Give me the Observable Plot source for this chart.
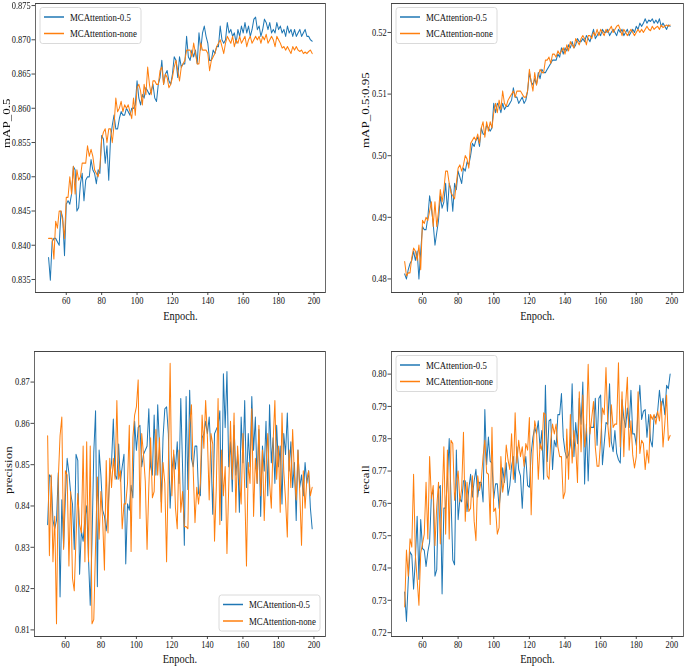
<!DOCTYPE html>
<html><head><meta charset="utf-8">
<script src="https://cdn.jsdelivr.net/npm/d3@7"></script>
<script src="https://cdn.jsdelivr.net/npm/@observablehq/plot@0.6"></script>
<style>
body{margin:0;background:#fff;}
#chart{position:relative;width:685px;height:670px;overflow:hidden;background:#fff;}
.panel{position:absolute;transform-origin:0 0;transform:scaleX(0.8);}
</style></head><body><div id="chart"></div>
<script>
// ---- data ----
const epochs = d3.range(50, 200);
const xTicks = [60, 80, 100, 120, 140, 160, 180, 200];
const seriesNames = ["MCAttention-0.5", "MCAttention-none"];

const map05_a = [
0.8382,0.8349,0.8405,0.8410,0.8410,0.8405,0.8400,0.8450,0.8440,0.8385,
0.8460,0.8465,0.8460,0.8475,0.8515,0.8510,0.8450,0.8455,0.8490,0.8505,
0.8465,0.8495,0.8500,0.8500,0.8525,0.8510,0.8505,0.8490,0.8510,0.8505,
0.8560,0.8555,0.8520,0.8545,0.8495,0.8555,0.8575,0.8590,0.8570,0.8570,
0.8585,0.8595,0.8590,0.8590,0.8600,0.8595,0.8590,0.8600,0.8600,0.8605,
0.8640,0.8615,0.8605,0.8620,0.8615,0.8630,0.8625,0.8620,0.8625,0.8635,
0.8615,0.8610,0.8635,0.8645,0.8670,0.8635,0.8650,0.8655,0.8640,0.8635,
0.8650,0.8675,0.8670,0.8645,0.8675,0.8660,0.8665,0.8665,0.8705,0.8675,
0.8670,0.8685,0.8675,0.8685,0.8665,0.8710,0.8685,0.8710,0.8720,0.8705,
0.8695,0.8670,0.8670,0.8685,0.8680,0.8690,0.8690,0.8720,0.8700,0.8695,
0.8700,0.8725,0.8710,0.8715,0.8705,0.8710,0.8695,0.8715,0.8705,0.8720,
0.8710,0.8725,0.8710,0.8720,0.8705,0.8715,0.8730,0.8733,0.8715,0.8720,
0.8705,0.8715,0.8730,0.8725,0.8715,0.8725,0.8710,0.8715,0.8710,0.8725,
0.8715,0.8720,0.8710,0.8715,0.8705,0.8720,0.8710,0.8715,0.8705,0.8715,
0.8705,0.8710,0.8715,0.8705,0.8710,0.8715,0.8705,0.8705,0.8700,0.8698];
const map05_b = [
0.8410,0.8410,0.8410,0.8380,0.8435,0.8425,0.8450,0.8450,0.8435,0.8410,
0.8470,0.8470,0.8500,0.8475,0.8515,0.8475,0.8510,0.8495,0.8500,0.8520,
0.8520,0.8520,0.8545,0.8530,0.8540,0.8530,0.8510,0.8505,0.8500,0.8515,
0.8555,0.8565,0.8570,0.8550,0.8570,0.8570,0.8550,0.8575,0.8615,0.8595,
0.8600,0.8610,0.8595,0.8605,0.8600,0.8605,0.8595,0.8585,0.8615,0.8590,
0.8630,0.8635,0.8625,0.8605,0.8635,0.8620,0.8660,0.8635,0.8620,0.8640,
0.8640,0.8635,0.8635,0.8655,0.8660,0.8635,0.8650,0.8645,0.8630,0.8635,
0.8645,0.8660,0.8670,0.8655,0.8640,0.8660,0.8665,0.8670,0.8685,0.8685,
0.8685,0.8675,0.8695,0.8680,0.8665,0.8665,0.8695,0.8685,0.8685,0.8685,
0.8680,0.8655,0.8670,0.8675,0.8680,0.8690,0.8695,0.8700,0.8690,0.8680,
0.8695,0.8705,0.8700,0.8695,0.8705,0.8690,0.8700,0.8695,0.8705,0.8695,
0.8700,0.8705,0.8690,0.8700,0.8705,0.8695,0.8700,0.8705,0.8700,0.8705,
0.8695,0.8705,0.8700,0.8708,0.8695,0.8700,0.8705,0.8700,0.8690,0.8705,
0.8700,0.8695,0.8688,0.8690,0.8685,0.8690,0.8685,0.8680,0.8690,0.8685,
0.8690,0.8685,0.8683,0.8685,0.8680,0.8682,0.8680,0.8683,0.8685,0.8680];

const map95_a = [
0.4808,0.4800,0.4815,0.4825,0.4830,0.4845,0.4830,0.4845,0.4800,0.4845,
0.4885,0.4880,0.4880,0.4900,0.4935,0.4915,0.4890,0.4855,0.4875,0.4895,
0.4935,0.4915,0.4925,0.4955,0.4910,0.4955,0.4945,0.4910,0.4955,0.4945,
0.4975,0.4965,0.4955,0.4980,0.4975,0.4990,0.4985,0.5000,0.5020,0.5015,
0.5025,0.5030,0.5015,0.5045,0.5035,0.5035,0.5050,0.5045,0.5040,0.5045,
0.5085,0.5070,0.5085,0.5080,0.5070,0.5085,0.5075,0.5080,0.5080,0.5085,
0.5090,0.5110,0.5095,0.5095,0.5085,0.5090,0.5095,0.5085,0.5090,0.5105,
0.5135,0.5120,0.5115,0.5125,0.5115,0.5135,0.5125,0.5140,0.5135,0.5135,
0.5140,0.5145,0.5150,0.5155,0.5155,0.5155,0.5165,0.5160,0.5175,0.5165,
0.5175,0.5170,0.5180,0.5175,0.5185,0.5175,0.5180,0.5190,0.5185,0.5185,
0.5190,0.5185,0.5195,0.5190,0.5185,0.5195,0.5205,0.5190,0.5195,0.5200,
0.5195,0.5205,0.5200,0.5200,0.5205,0.5195,0.5200,0.5205,0.5200,0.5195,
0.5205,0.5200,0.5205,0.5195,0.5200,0.5205,0.5195,0.5200,0.5205,0.5200,
0.5210,0.5205,0.5215,0.5210,0.5215,0.5222,0.5215,0.5220,0.5218,0.5222,
0.5215,0.5220,0.5215,0.5222,0.5210,0.5215,0.5210,0.5205,0.5212,0.5210];
const map95_b = [
0.4828,0.4805,0.4810,0.4810,0.4835,0.4850,0.4845,0.4830,0.4855,0.4815,
0.4895,0.4890,0.4900,0.4895,0.4910,0.4925,0.4885,0.4925,0.4885,0.4910,
0.4945,0.4925,0.4945,0.4975,0.4975,0.4955,0.4940,0.4935,0.4930,0.4955,
0.4980,0.4985,0.4975,0.4985,0.5000,0.4995,0.4980,0.5020,0.5025,0.5030,
0.5025,0.5035,0.5020,0.5045,0.5055,0.5030,0.5055,0.5040,0.5055,0.5045,
0.5070,0.5085,0.5070,0.5090,0.5075,0.5105,0.5085,0.5080,0.5090,0.5095,
0.5100,0.5105,0.5095,0.5105,0.5105,0.5105,0.5100,0.5095,0.5095,0.5105,
0.5140,0.5120,0.5105,0.5135,0.5115,0.5130,0.5140,0.5135,0.5135,0.5155,
0.5155,0.5160,0.5150,0.5165,0.5165,0.5160,0.5170,0.5165,0.5170,0.5175,
0.5165,0.5180,0.5170,0.5185,0.5180,0.5175,0.5190,0.5185,0.5180,0.5190,
0.5195,0.5190,0.5180,0.5195,0.5195,0.5190,0.5200,0.5195,0.5205,0.5195,
0.5205,0.5200,0.5195,0.5205,0.5200,0.5205,0.5210,0.5200,0.5205,0.5210,
0.5212,0.5205,0.5195,0.5205,0.5200,0.5195,0.5200,0.5205,0.5200,0.5195,
0.5200,0.5205,0.5200,0.5205,0.5200,0.5205,0.5210,0.5205,0.5203,0.5210,
0.5205,0.5208,0.5210,0.5205,0.5212,0.5208,0.5210,0.5212,0.5210,0.5212];

const prec_a = [
0.8355,0.8475,0.8470,0.8365,0.8345,0.8365,0.8480,0.8180,0.8415,0.8300,
0.8420,0.8515,0.8480,0.8430,0.8405,0.8295,0.8525,0.8510,0.8235,0.8340,
0.8315,0.8370,0.8400,0.8275,0.8160,0.8315,0.8530,0.8630,0.8205,0.8535,
0.8475,0.8390,0.8375,0.8340,0.8385,0.8475,0.8505,0.8610,0.8475,0.8465,
0.8550,0.8460,0.8495,0.8525,0.8260,0.8405,0.8390,0.8450,0.8420,0.8605,
0.8535,0.8590,0.8595,0.8495,0.8525,0.8535,0.8545,0.8635,0.8495,0.8475,
0.8620,0.8475,0.8645,0.8545,0.8410,0.8565,0.8635,0.8640,0.8575,0.8395,
0.8485,0.8525,0.8490,0.8555,0.8455,0.8660,0.8495,0.8305,0.8665,0.8440,
0.8680,0.8515,0.8495,0.8545,0.8545,0.8430,0.8425,0.8565,0.8575,0.8605,
0.8575,0.8615,0.8530,0.8380,0.8575,0.8585,0.8595,0.8630,0.8365,0.8720,
0.8590,0.8725,0.8495,0.8555,0.8435,0.8595,0.8475,0.8525,0.8385,0.8615,
0.8505,0.8655,0.8445,0.8575,0.8495,0.8665,0.8535,0.8615,0.8455,0.8585,
0.8375,0.8545,0.8485,0.8605,0.8425,0.8645,0.8505,0.8565,0.8455,0.8595,
0.8495,0.8545,0.8405,0.8575,0.8525,0.8625,0.8485,0.8555,0.8445,0.8505,
0.8365,0.8535,0.8445,0.8475,0.8425,0.8505,0.8455,0.8485,0.8395,0.8345];
const prec_b = [
0.8570,0.8280,0.8475,0.8265,0.8375,0.8115,0.8465,0.8570,0.8615,0.8295,
0.8485,0.8475,0.8255,0.8435,0.8225,0.8195,0.8325,0.8430,0.8355,0.8335,
0.8545,0.8265,0.8555,0.8265,0.8545,0.8115,0.8125,0.8305,0.8470,0.8320,
0.8435,0.8365,0.8245,0.8510,0.8335,0.8515,0.8445,0.8515,0.8465,0.8655,
0.8465,0.8485,0.8345,0.8405,0.8405,0.8455,0.8595,0.8290,0.8565,0.8620,
0.8640,0.8705,0.8370,0.8575,0.8525,0.8460,0.8295,0.8445,0.8565,0.8420,
0.8435,0.8585,0.8475,0.8565,0.8385,0.8505,0.8455,0.8265,0.8495,0.8745,
0.8425,0.8535,0.8395,0.8345,0.8535,0.8385,0.8435,0.8350,0.8350,0.8345,
0.8595,0.8645,0.8485,0.8360,0.8445,0.8405,0.8455,0.8620,0.8540,0.8655,
0.8565,0.8415,0.8575,0.8550,0.8315,0.8445,0.8660,0.8355,0.8535,0.8425,
0.8495,0.8285,0.8445,0.8605,0.8465,0.8625,0.8385,0.8545,0.8465,0.8405,
0.8575,0.8445,0.8255,0.8505,0.8455,0.8635,0.8375,0.8515,0.8455,0.8595,
0.8425,0.8535,0.8365,0.8495,0.8575,0.8455,0.8395,0.8555,0.8655,0.8465,
0.8545,0.8385,0.8625,0.8485,0.8415,0.8325,0.8535,0.8445,0.8585,0.8475,
0.8415,0.8535,0.8435,0.8305,0.8485,0.8395,0.8465,0.8485,0.8425,0.8445];

const recall_a = [
0.7325,0.7235,0.7360,0.7450,0.7440,0.7335,0.7425,0.7560,0.7365,0.7550,
0.7460,0.7455,0.7405,0.7450,0.7480,0.7625,0.7640,0.7375,0.7395,0.7645,
0.7655,0.7320,0.7585,0.7585,0.7675,0.7800,0.7620,0.7425,0.7410,0.7765,
0.7550,0.7615,0.7605,0.7670,0.7670,0.7575,0.7645,0.7690,0.7620,0.7670,
0.7705,0.7620,0.7665,0.7665,0.7605,0.7890,0.7720,0.7805,0.7730,0.7725,
0.7615,0.7660,0.7660,0.7585,0.7645,0.7710,0.7665,0.7725,0.7625,0.7655,
0.7715,0.7745,0.7665,0.7775,0.7705,0.7685,0.7585,0.7705,0.7745,0.7655,
0.7650,0.7755,0.7805,0.7835,0.7815,0.7855,0.7770,0.7825,0.7675,0.7965,
0.7730,0.7855,0.7860,0.7705,0.7795,0.7775,0.7875,0.7875,0.7940,0.7805,
0.7760,0.7740,0.7750,0.7780,0.7970,0.7745,0.7850,0.7785,0.7925,0.7845,
0.7975,0.7660,0.7845,0.7670,0.7835,0.7835,0.7835,0.7925,0.7780,0.7925,
0.7935,0.7720,0.7785,0.7850,0.7845,0.7970,0.7790,0.7760,0.7825,0.7755,
0.7735,0.7725,0.7920,0.7865,0.7835,0.7895,0.7835,0.7950,0.7815,0.7815,
0.7780,0.7895,0.7965,0.7860,0.7885,0.7890,0.7805,0.7875,0.7795,0.7775,
0.7870,0.7865,0.7885,0.7950,0.7895,0.7925,0.7875,0.7965,0.7955,0.8000];
const recall_b = [
0.7280,0.7455,0.7375,0.7490,0.7465,0.7690,0.7440,0.7365,0.7285,0.7445,
0.7475,0.7505,0.7665,0.7490,0.7745,0.7615,0.7655,0.7470,0.7590,0.7665,
0.7475,0.7605,0.7775,0.7505,0.7765,0.7490,0.7795,0.7785,0.7610,0.7660,
0.7700,0.7605,0.7645,0.7820,0.7545,0.7665,0.7575,0.7585,0.7685,0.7545,
0.7485,0.7685,0.7640,0.7670,0.7745,0.7795,0.7695,0.7690,0.7535,0.7835,
0.7575,0.7585,0.7505,0.7525,0.7745,0.7635,0.7675,0.7780,0.7735,0.7705,
0.7815,0.7675,0.7880,0.7725,0.7795,0.7745,0.7775,0.7715,0.7785,0.7765,
0.7865,0.7565,0.7755,0.7855,0.7825,0.7675,0.7785,0.7765,0.7880,0.7875,
0.7685,0.7675,0.7795,0.7845,0.7815,0.7845,0.7775,0.7745,0.7745,0.7615,
0.7635,0.7830,0.7675,0.7875,0.7725,0.7825,0.7775,0.7665,0.7945,0.7760,
0.7935,0.7775,0.7825,0.8030,0.7815,0.7865,0.7915,0.7775,0.7715,0.7715,
0.7795,0.7895,0.7875,0.8020,0.7845,0.7775,0.7905,0.7835,0.7845,0.7845,
0.8035,0.7775,0.7945,0.7745,0.7905,0.7990,0.7765,0.7855,0.7750,0.7710,
0.7745,0.7945,0.7755,0.7795,0.7785,0.7705,0.7765,0.7725,0.7875,0.7860,
0.7875,0.7845,0.7885,0.7855,0.7915,0.7775,0.7845,0.7935,0.7795,0.7810];

const yTicks05 = [0.835, 0.840, 0.845, 0.850, 0.855, 0.860, 0.865, 0.870, 0.875];
const yTicks95 = [0.48, 0.49, 0.50, 0.51, 0.52];
const yTicksPrec = [0.81, 0.82, 0.83, 0.84, 0.85, 0.86, 0.87];
const yTicksRecall = [0.72, 0.73, 0.74, 0.75, 0.76, 0.77, 0.78, 0.79, 0.80];

// ---- drawing ----
const SX = 0.8;               // horizontal squeeze of the original figure
const C_A = "#1f77b4", C_B = "#ff7f0e";
const xDomain = [42.55, 206.45];
const FONT = '"Liberation Serif", "Times New Roman", serif';
const TICK_FS = 10.5, LABEL_FS = 13;

function drawPanel(cfg) {
  const {left, top, width, height, frame, yDomain, yTicks, yFormat, yLabel, yLabelDx, xLabelDy, a, b, legend} = cfg;
  const [fl, fr, ft, fb] = frame;
  const rowsA = epochs.map((e, i) => ({epoch: e, value: a[i]}));
  const rowsB = epochs.map((e, i) => ({epoch: e, value: b[i]}));
  const plot = Plot.plot({
    width: width / SX, height,
    marginLeft: fl / SX, marginRight: (width - fr) / SX,
    marginTop: ft, marginBottom: height - fb,
    style: {fontFamily: FONT, fontSize: TICK_FS + "px", color: "#111", background: "white", maxWidth: "none", overflow: "visible"},
    x: {domain: xDomain},
    y: {domain: yDomain},
    marks: [
      Plot.line(rowsA, {x: "epoch", y: "value", stroke: C_A, strokeWidth: 1.25}),
      Plot.line(rowsB, {x: "epoch", y: "value", stroke: C_B, strokeWidth: 1.25}),
      Plot.frame({stroke: "#444", strokeWidth: 1}),
      Plot.axisX({ticks: xTicks, tickSize: 3, tickPadding: 1, label: null, fontSize: TICK_FS, stroke: "#333"}),
      Plot.axisY({ticks: yTicks, tickFormat: yFormat, tickSize: 3.5 / SX, tickPadding: 1.2 / SX, label: null, fontSize: TICK_FS, stroke: "#333"}),
      Plot.text([yLabel], {text: d => d, frameAnchor: "left", dx: yLabelDx / SX, rotate: -90, fontSize: LABEL_FS, fill: "#111"}),
      Plot.text(["Enpoch."], {text: d => d, frameAnchor: "bottom", dy: xLabelDy, fontSize: LABEL_FS, fill: "#111"})
    ]
  });
  // matplotlib-style legend box
  const svg = d3.select(plot);
  const bw = 101, bh = 36;
  const bx = legend === "lower right" ? fr - 5 - bw : fl + 5;
  const by = legend === "lower right" ? fb - 5 - bh : ft + 4.5;
  const g = svg.append("g").attr("font-family", FONT).attr("font-size", 11).attr("text-anchor", "start");
  g.append("rect").attr("x", bx / SX).attr("y", by).attr("width", bw / SX).attr("height", bh)
    .attr("rx", 3).attr("fill", "white").attr("fill-opacity", 0.85).attr("stroke", "#d6d6d6");
  [C_A, C_B].forEach((c, i) => {
    const yy = by + 9.5 + i * 16.5;
    g.append("line").attr("x1", (bx + 4) / SX).attr("x2", (bx + 24) / SX)
      .attr("y1", yy).attr("y2", yy).attr("stroke", c).attr("stroke-width", 1.5);
    g.append("text").attr("x", (bx + 30) / SX).attr("y", yy).attr("dy", "0.35em")
      .attr("text-anchor", "start").attr("fill", "#111").text(seriesNames[i]);
  });
  const div = document.createElement("div");
  div.className = "panel";
  div.style.left = left + "px";
  div.style.top = top + "px";
  div.style.width = (width / SX) + "px";
  div.style.height = height + "px";
  div.appendChild(plot);
  document.getElementById("chart").appendChild(div);
}

drawPanel({left: 0, top: 0, width: 342, height: 335, frame: [35, 325, 3, 292],
  yDomain: [0.8331, 0.8753], yTicks: yTicks05, yFormat: d3.format(".3f"), yLabel: "mAP_0.5", yLabelDx: -29, xLabelDy: 27,
  a: map05_a, b: map05_b, legend: "upper left"});
drawPanel({left: 342, top: 0, width: 343, height: 335, frame: [49, 341, 3, 292],
  yDomain: [0.4778, 0.5247], yTicks: yTicks95, yFormat: d3.format(".2f"), yLabel: "mAP_0.5:0.95", yLabelDx: -25.5, xLabelDy: 27,
  a: map95_a, b: map95_b, legend: "upper left"});
drawPanel({left: 0, top: 335, width: 342, height: 335, frame: [34, 325, 16, 301],
  yDomain: [0.8084, 0.8774], yTicks: yTicksPrec, yFormat: d3.format(".2f"), yLabel: "precision", yLabelDx: -25.5, xLabelDy: 26.5,
  a: prec_a, b: prec_b, legend: "lower right"});
drawPanel({left: 342, top: 335, width: 343, height: 335, frame: [49, 341, 16, 301],
  yDomain: [0.7188, 0.8070], yTicks: yTicksRecall, yFormat: d3.format(".2f"), yLabel: "recall", yLabelDx: -25.5, xLabelDy: 26.5,
  a: recall_a, b: recall_b, legend: "upper left"});
</script></body></html>
